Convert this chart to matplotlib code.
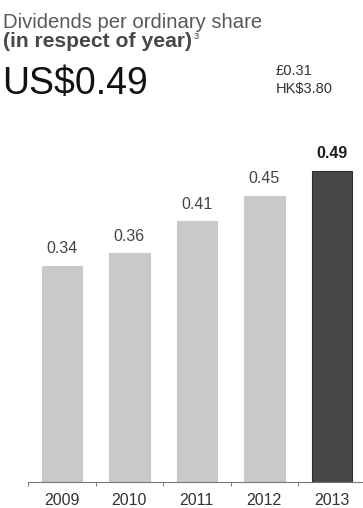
import matplotlib.pyplot as plt

plt.rcParams['font.family'] = ['Liberation Sans', 'DejaVu Sans']

years = ['2009', '2010', '2011', '2012', '2013']
dividends = [0.34, 0.36, 0.41, 0.45, 0.49]
value_labels = ['0.34', '0.36', '0.41', '0.45', '0.49']

W, H = 363, 508
fig = plt.figure(figsize=(W / 100, H / 100), dpi=100)

# axes placed so the x axis sits near the bottom and runs off the right edge
ax = fig.add_axes([28 / W, (H - 481.7) / H, 337.5 / W, 317.5 / H])
colors = ['#c9c9c9'] * 4 + ['#484848']
edges = ['#c9c9c9'] * 4 + ['#2e2e2e']
x = range(len(years))
ax.bar(x, dividends, width=0.6, color=colors, edgecolor=edges, linewidth=0.8)
ax.set_xlim(-0.5, 4.5)
ax.set_ylim(0, 0.5)

for i, (v, lab) in enumerate(zip(dividends, value_labels)):
    last = i == len(dividends) - 1
    ax.annotate(lab, (i, v), xytext=(0, 9), textcoords='offset points',
                ha='center', va='baseline', fontsize=11.5,
                color='#1e1e1e' if last else '#444444',
                fontweight='bold' if last else 'normal')

for s in ['top', 'right', 'left']:
    ax.spines[s].set_visible(False)
ax.spines['bottom'].set_color('#777777')
ax.spines['bottom'].set_linewidth(0.8)
ax.set_yticks([])
ax.set_xticks(list(x))
ax.set_xticklabels(years, fontsize=11.5, color='#333333')
ax.tick_params(axis='x', which='major', length=0, pad=8)
ax.set_xticks([-0.5, 0.5, 1.5, 2.5, 3.5], minor=True)
ax.tick_params(axis='x', which='minor', length=3, width=0.7, color='#777777')

# heading block
fig.text(3 / W, 1 - 28.5 / H, 'Dividends per ordinary share', fontsize=14.6,
         color='#595959', ha='left', va='baseline')
sub = fig.text(3 / W, 1 - 46.5 / H, '(in respect of year)', fontsize=15.2,
               fontweight='bold', color='#484848', ha='left', va='baseline')
# footnote marker after the second heading line
ax.annotate('3', xy=(1, H - 39), xycoords=(sub, 'figure pixels'),
            xytext=(1.5, 0), textcoords='offset points', fontsize=6.5,
            color='#3a3a3a', ha='left', va='baseline', annotation_clip=False)
fig.text(2 / W, 1 - 94 / H, 'US$0.49', fontsize=27, color='#111111',
         ha='left', va='baseline')
fig.text(276 / W, 1 - 75 / H, '£0.31', fontsize=10.5, color='#333333',
         ha='left', va='baseline')
fig.text(276 / W, 1 - 93.5 / H, 'HK$3.80', fontsize=10.5, color='#333333',
         ha='left', va='baseline')

fig.savefig('out.png', dpi=100)
